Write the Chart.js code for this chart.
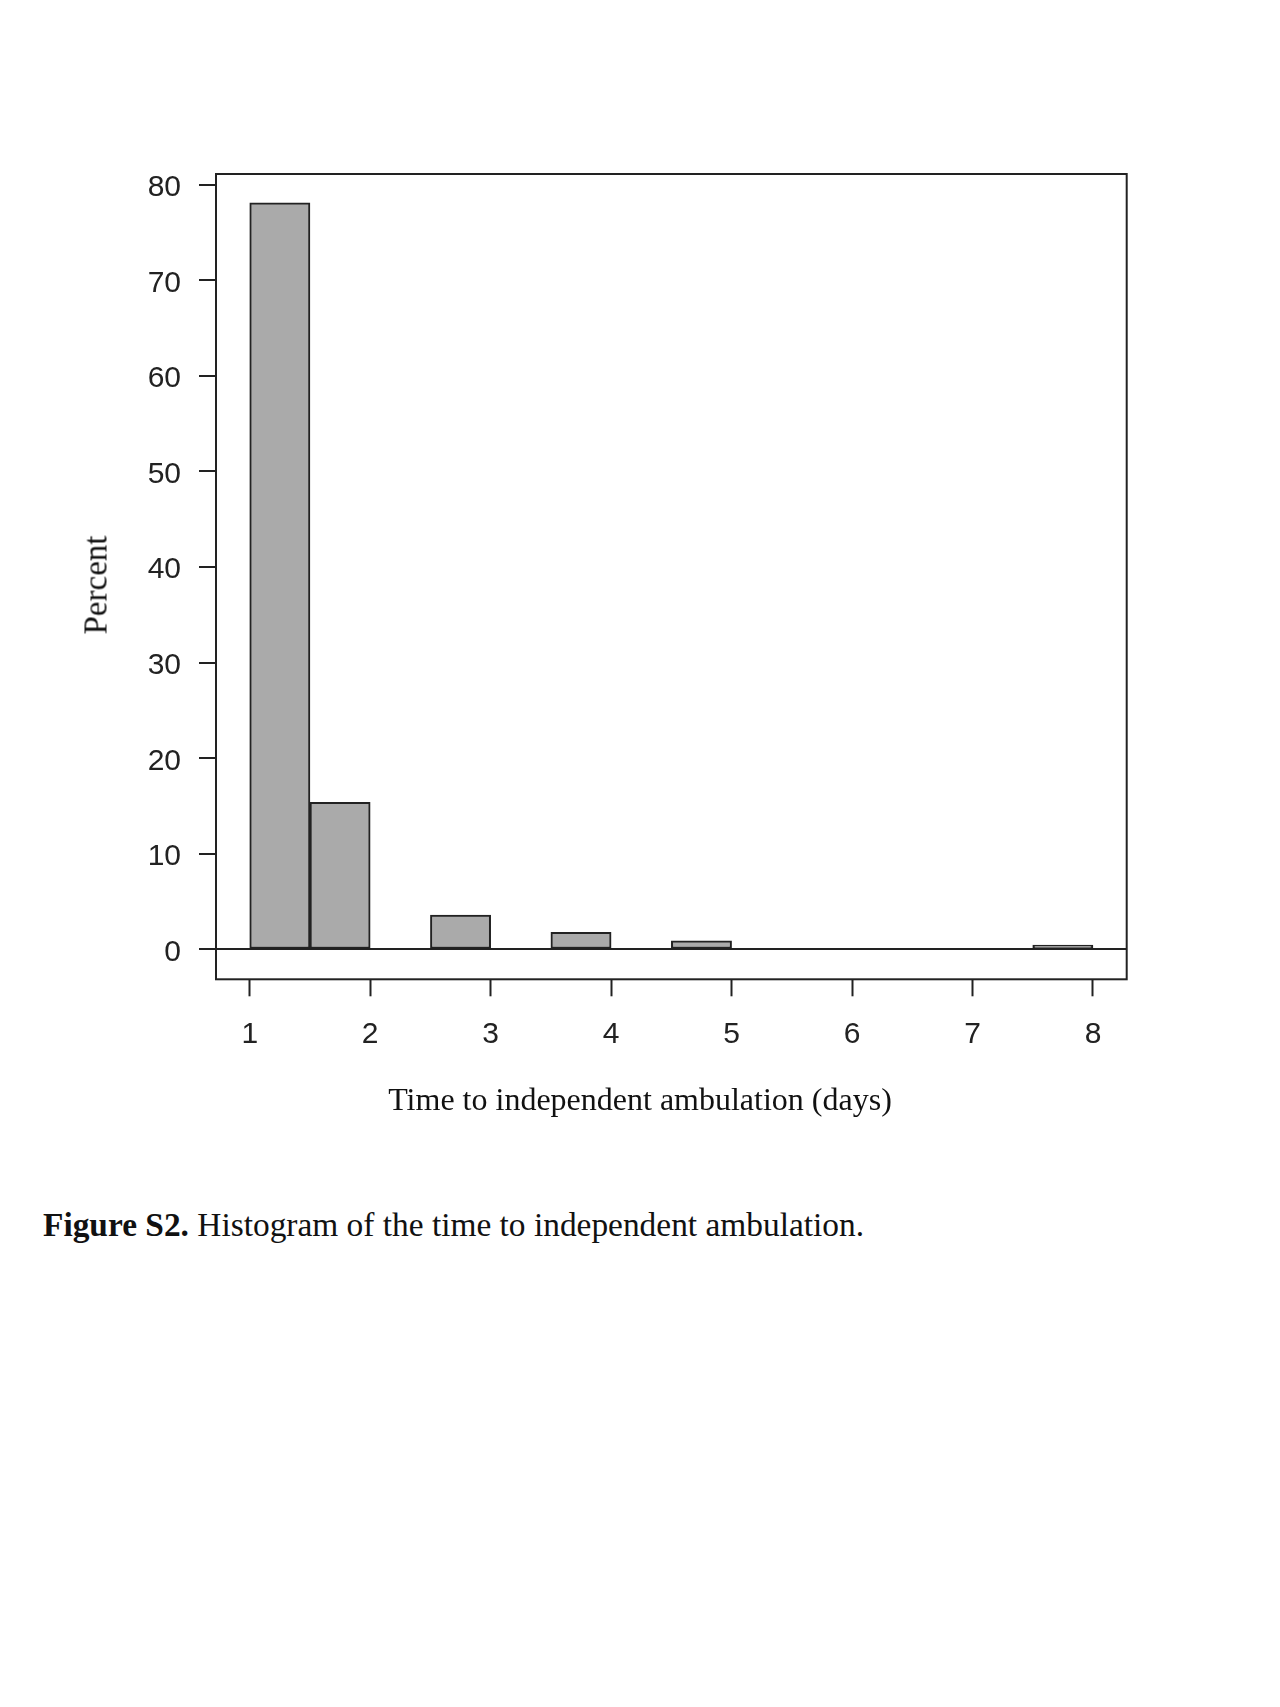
<!DOCTYPE html>
<html>
<head>
<meta charset="utf-8">
<title>Figure S2</title>
<script src="https://cdn.jsdelivr.net/npm/chart.js@4.4.1/dist/chart.umd.min.js"></script>
<style>
  html, body { margin: 0; padding: 0; background: #fff; }
  body { width: 1280px; height: 1707px; position: relative; overflow: hidden; }
  #histChart { position: absolute; left: 0; top: 0; }
  .serif { position: absolute; font-family: "Liberation Serif", "Times New Roman", serif; color: #111; white-space: nowrap; line-height: 1; }
  #xTitle { left: 640px; top: 1083px; font-size: 32px; transform: translateX(-50%); }
  #yTitle { left: 96px; top: 585px; font-size: 33px; transform: translate(-50%, -50%) rotate(-90deg); }
  #caption { left: 43px; top: 1208px; font-size: 33.4px; }
</style>
</head>
<body>
<canvas id="histChart" width="1280" height="1150"></canvas>
<div class="serif" id="yTitle">Percent</div>
<div class="serif" id="xTitle">Time to independent ambulation (days)</div>
<div class="serif" id="caption"><b>Figure S2.</b> Histogram of the time to independent ambulation.</div>
<script>
// bins of half a day, from 1 to 8
const binStarts = [1, 1.5, 2, 2.5, 3, 3.5, 4, 4.5, 5, 5.5, 6, 6.5, 7, 7.5];
const percent = [78.1, 15.4, 0, 3.6, 0, 1.8, 0, 0.9, 0, 0, 0, 0, 0, 0.45];
const binWidth = 0.5;
const xTicks = [1, 2, 3, 4, 5, 6, 7, 8];
const yTicks = [0, 10, 20, 30, 40, 50, 60, 70, 80];

const ink = "#222";
const tickFont = { family: "'Liberation Sans', Arial, sans-serif", size: 30 };

// box round the plot region, like R's box()
const framePlugin = {
  id: "frame",
  afterDatasetsDraw(chart) {
    const { ctx, chartArea: a } = chart;
    ctx.save();
    ctx.strokeStyle = ink;
    ctx.lineWidth = 2;
    ctx.strokeRect(a.left, a.top, a.right - a.left, a.bottom - a.top);
    ctx.restore();
  },
};

const ctx = document.getElementById("histChart").getContext("2d");
new Chart(ctx, {
  type: "bar",
  data: {
    datasets: [
      {
        label: "Percent",
        data: binStarts.map((b, i) => ({ x: b + binWidth / 2, y: percent[i] })),
        backgroundColor: "#aaaaaa",
        borderColor: ink,
        borderWidth: 2,
        borderSkipped: false,
        barPercentage: 1,
        categoryPercentage: 1,
      },
    ],
  },
  plugins: [framePlugin],
  options: {
    responsive: false,
    animation: false,
    layout: { padding: { top: 174, right: 153.3, left: 0, bottom: 0 } },
    plugins: { legend: { display: false }, tooltip: { enabled: false } },
    scales: {
      x: {
        type: "linear",
        min: 0.72,
        max: 8.28,
        offset: false,
        afterBuildTicks: (scale) => {
          scale.ticks = xTicks.map((v) => ({ value: v }));
        },
        afterFit: (scale) => {
          scale.height = 1150 - 979.3;
        },
        border: { display: false },
        grid: {
          offset: false,
          drawOnChartArea: false,
          tickLength: 17,
          tickWidth: 2,
          tickColor: ink,
        },
        ticks: { font: tickFont, color: ink, padding: 20, maxRotation: 0 },
      },
      y: {
        type: "linear",
        min: -3.12,
        max: 81.12,
        afterBuildTicks: (scale) => {
          scale.ticks = yTicks.map((v) => ({ value: v }));
        },
        afterFit: (scale) => {
          scale.width = 216;
        },
        border: { display: false },
        grid: {
          // only the zero line runs across the plot
          color: (c) => (c.tick && c.tick.value === 0 ? ink : "rgba(0,0,0,0)"),
          lineWidth: 2,
          tickLength: 17,
          tickWidth: 2,
          tickColor: ink,
        },
        ticks: { font: tickFont, color: ink, padding: 18, labelOffset: 3 },
      },
    },
  },
});
</script>
</body>
</html>
